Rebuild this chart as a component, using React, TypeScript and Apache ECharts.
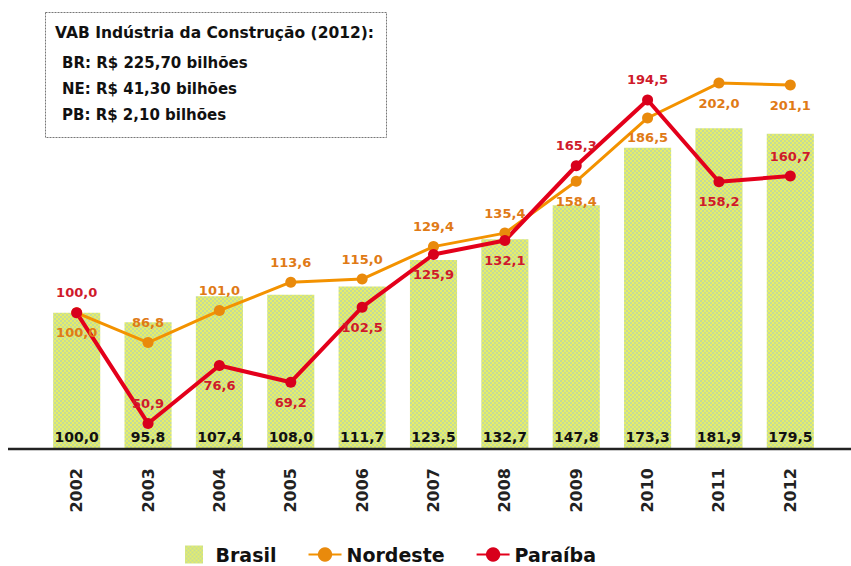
import React, { useEffect, useRef } from "react";
import * as echarts from "echarts";

const years = ["2002", "2003", "2004", "2005", "2006", "2007", "2008", "2009", "2010", "2011", "2012"];
const brasil = [100.0, 95.8, 107.4, 108.0, 111.7, 123.5, 132.7, 147.8, 173.3, 181.9, 179.5];
const nordeste = [100.0, 86.8, 101.0, 113.6, 115.0, 129.4, 135.4, 158.4, 186.5, 202.0, 201.1];
const paraiba = [100.0, 50.9, 76.6, 69.2, 102.5, 125.9, 132.1, 165.3, 194.5, 158.2, 160.7];
const nordesteLabelPos = ["bottom", "top", "top", "top", "top", "top", "top", "bottom", "bottom", "bottom", "bottom"];
const paraibaLabelPos = ["top", "top", "bottom", "bottom", "bottom", "bottom", "bottom", "top", "top", "bottom", "top"];
const seriesNames = ["Brasil", "Nordeste", "Paraíba"];
const infoTitle = "VAB Indústria da Construção (2012):";
const infoLines = ["BR: R$ 225,70 bilhões", "NE: R$ 41,30 bilhões", "PB: R$ 2,10 bilhões"];

const fmt = (v: number) => v.toFixed(1).replace(".", ",");
const FONT = "DejaVu Sans";

function makePattern(): any {
  const c = document.createElement("canvas");
  c.width = 4;
  c.height = 4;
  const ctx = c.getContext("2d");
  if (!ctx) return "#d9e68a";
  ctx.fillStyle = "#e6ee68";
  ctx.fillRect(0, 0, 4, 4);
  ctx.fillStyle = "#c4dc98";
  ctx.fillRect(0, 0, 2, 2);
  ctx.fillRect(2, 2, 2, 2);
  return { image: c, repeat: "repeat" };
}

export default function App() {
  const ref = useRef<HTMLDivElement>(null);
  useEffect(() => {
    if (!ref.current) return;
    const chart = echarts.init(ref.current, null, { renderer: "svg" });
    const pattern = makePattern();
    const option: any = {
      animation: false,
      backgroundColor: "#ffffff",
      grid: { left: 41, right: 25, top: 20, bottom: 118, containLabel: false },
      xAxis: {
        type: "category",
        data: years,
        axisLine: { show: false },
        axisTick: { show: false },
        axisLabel: {
          rotate: 90,
          margin: 20,
          fontFamily: FONT,
          fontWeight: "bold",
          fontSize: 16,
          color: "#222",
        },
      },
      yAxis: {
        type: "value",
        min: 40,
        max: 230,
        show: false,
        splitLine: { show: false },
      },
      legend: {
        left: 180,
        top: 540,
        itemWidth: 33,
        itemHeight: 18,
        itemGap: 31,
        textStyle: { fontFamily: FONT, fontWeight: "bold", fontSize: 19, color: "#111" },
        data: [
          { name: seriesNames[0], icon: "path://M0,0h10v10h-10z" },
          { name: seriesNames[1] },
          { name: seriesNames[2] },
        ],
      },
      series: [
        {
          name: seriesNames[0],
          type: "bar",
          data: brasil,
          barWidth: "66%",
          itemStyle: { color: pattern },
          label: {
            show: true,
            position: "insideBottom",
            distance: 4,
            formatter: (p: any) => fmt(p.value),
            fontFamily: FONT,
            fontWeight: "bold",
            fontSize: 14,
            color: "#111",
          },
        },
        {
          name: seriesNames[1],
          type: "line",
          data: nordeste.map((v, i) => ({ value: v, label: { position: nordesteLabelPos[i] } })),
          symbol: "circle",
          symbolSize: 11,
          lineStyle: { color: "#f39200", width: 3 },
          itemStyle: { color: "#e98a0c" },
          label: {
            show: true,
            distance: 8,
            formatter: (p: any) => fmt(p.value),
            fontFamily: FONT,
            fontWeight: "bold",
            fontSize: 13,
            color: "#e07a16",
          },
        },
        {
          name: seriesNames[2],
          type: "line",
          data: paraiba.map((v, i) => ({ value: v, label: { position: paraibaLabelPos[i] } })),
          symbol: "circle",
          symbolSize: 11,
          lineStyle: { color: "#e3001b", width: 4 },
          itemStyle: { color: "#d8001c" },
          label: {
            show: true,
            distance: 8,
            formatter: (p: any) => fmt(p.value),
            fontFamily: FONT,
            fontWeight: "bold",
            fontSize: 13,
            color: "#cf1a2b",
          },
        },
      ],
      graphic: [
        {
          type: "line",
          shape: { x1: 8, y1: 449, x2: 851, y2: 449 },
          style: { stroke: "#222", lineWidth: 2.5 },
          z: 10,
        },
        {
          type: "rect",
          shape: { x: 45.5, y: 12.5, width: 341, height: 125 },
          style: { fill: "#fff", stroke: "#777", lineWidth: 1, lineDash: [2, 1] },
          z: 20,
        },
        {
          type: "text",
          x: 55,
          y: 33,
          style: {
            text: infoTitle,
            fontFamily: FONT,
            fontWeight: "bold",
            fontSize: 15.5,
            fill: "#111",
            verticalAlign: "middle",
          },
          z: 21,
        },
        ...infoLines.map((t, i) => ({
          type: "text",
          x: 62,
          y: 63 + i * 26,
          style: {
            text: t,
            fontFamily: FONT,
            fontWeight: "bold",
            fontSize: 15,
            fill: "#111",
            verticalAlign: "middle",
          },
          z: 21,
        })),
      ],
    };
    chart.setOption(option);
    return () => chart.dispose();
  }, []);
  return <div ref={ref} style={{ width: 851, height: 566, position: "absolute", left: 0, top: 0 }} />;
}
